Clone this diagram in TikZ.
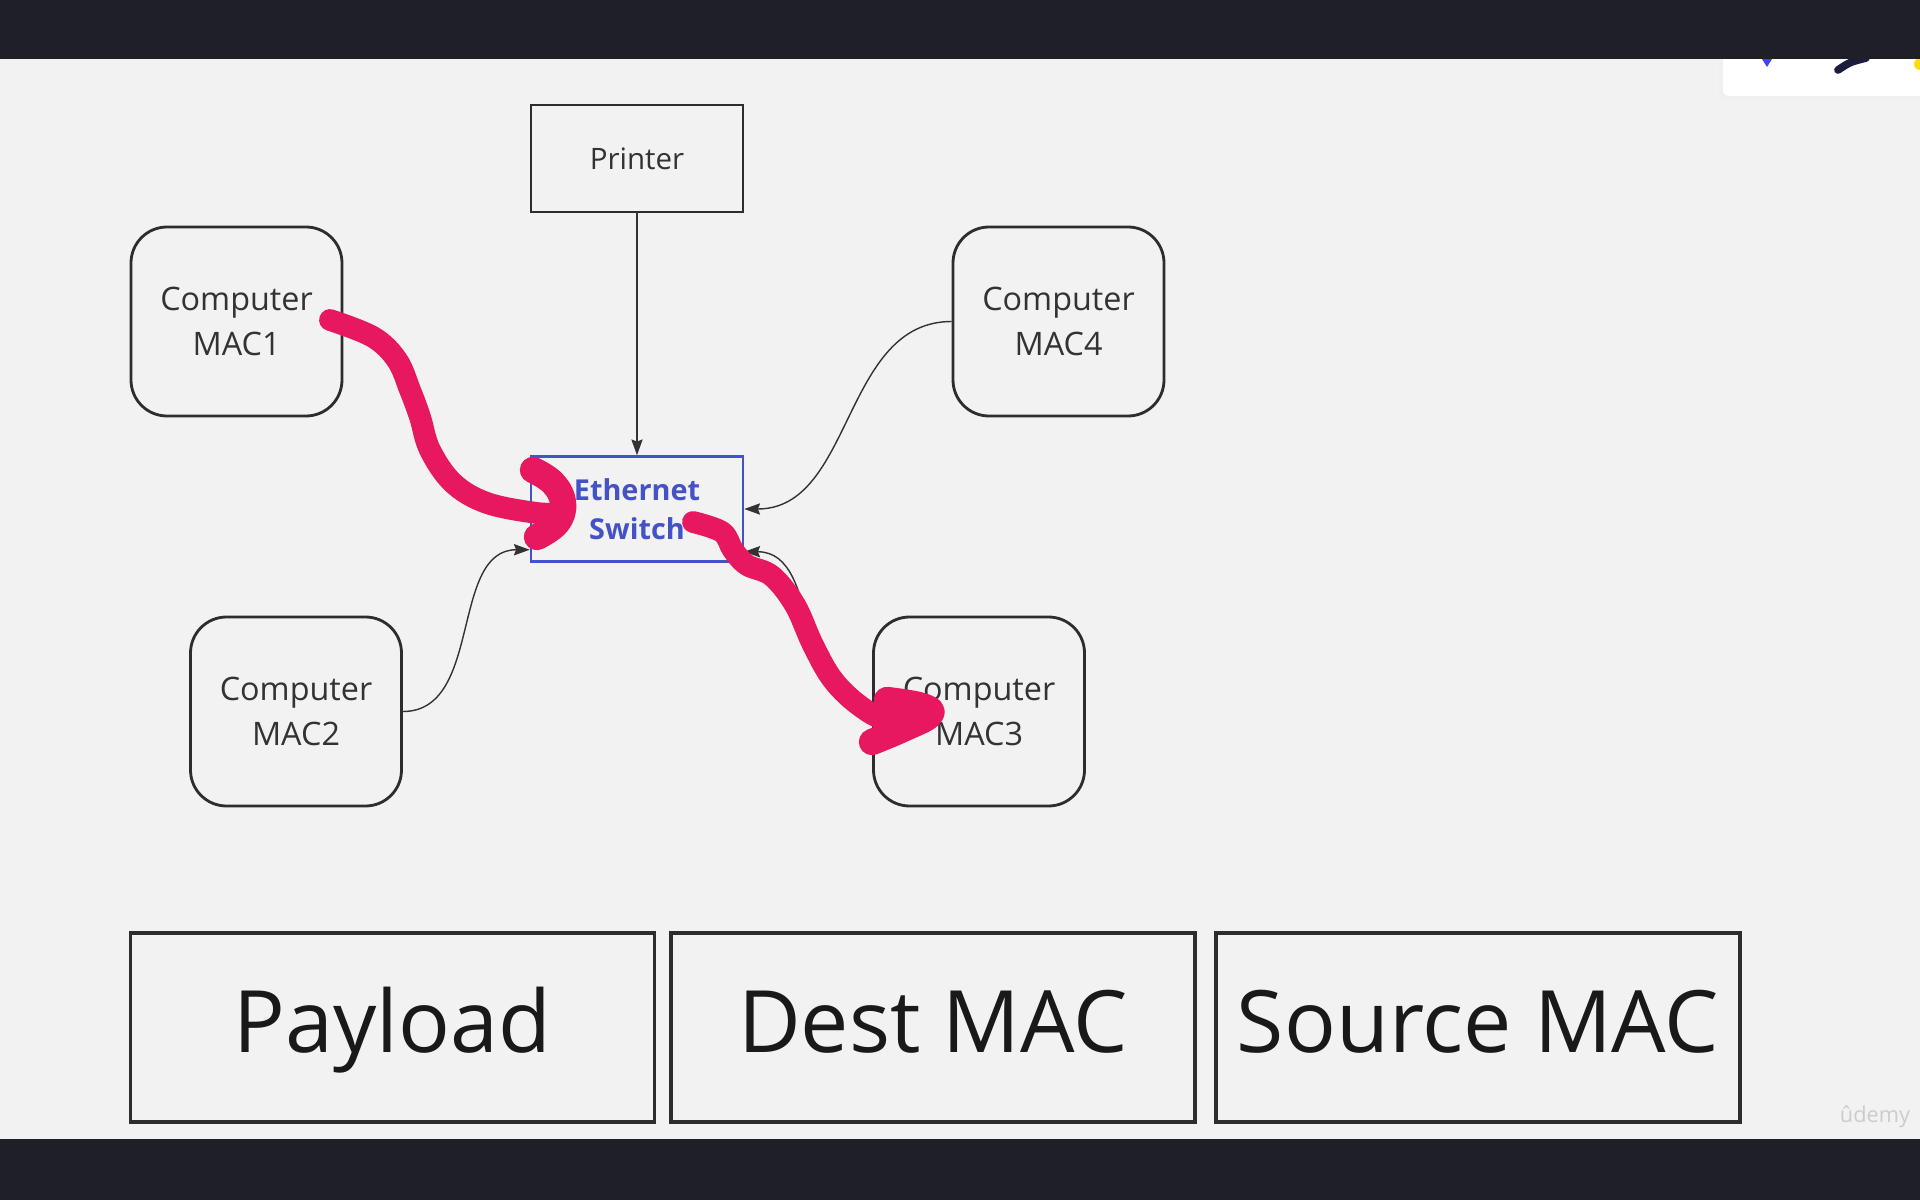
\documentclass[tikz,border=0pt]{standalone}
\usepackage{fontspec}
\setmainfont{Open Sans}
\usetikzlibrary{arrows.meta}
\definecolor{barcol}{RGB}{31,31,39}
\definecolor{paper}{RGB}{242,242,242}
\definecolor{boxline}{RGB}{45,45,45}
\definecolor{textgray}{RGB}{51,51,51}
\definecolor{switchblue}{RGB}{68,82,200}
\definecolor{inkpink}{RGB}{232,24,96}
\tikzset{
        computer/.style={draw=boxline, line width=0.8pt, rounded corners=3.6mm, minimum width=2.11cm, minimum height=1.89cm, align=center, text=textgray, font=\fontsize{9.2}{12.6}\selectfont},
        device/.style={draw=boxline, line width=0.8pt, minimum width=2.12cm, minimum height=1.07cm, text=textgray, font=\fontsize{8.4}{11}\selectfont},
        switchbox/.style={draw=switchblue, line width=0.7pt, minimum width=2.12cm, minimum height=1.05cm, align=center, text=switchblue, font=\fontsize{8.2}{11.2}\selectfont\bfseries},
        field/.style={draw=boxline, line width=1pt, minimum width=5.24cm, minimum height=1.89cm, text height=16pt, text depth=1.5pt, text=black!90, font=\fontsize{24.5}{30}\selectfont},
        link/.style={draw=black!80, line width=0.4pt, -{Stealth[length=4.5pt, width=3.2pt, inset=0.6pt]}},
        ink/.style={draw=inkpink, line width=6.2pt, line cap=round, line join=round},
        inkhead/.style={draw=inkpink, line width=7.5pt, line cap=round, line join=round}
          }
\begin{document}
\begin{tikzpicture}[x=0.1mm, y=-0.1mm]
        \useasboundingbox (0,0) rectangle (1920,1200);
        \fill[paper] (0,0) rectangle (1920,1200);
        \fill[black!6] (1719,59) rectangle (1920,100);
        \fill[white, rounded corners=0.6mm] (1723,40) rectangle (1940,96);
        \fill[blue!75] (1762,59) -- (1772,59) -- (1767,67) -- cycle;
        \draw[barcol!90!blue, line width=2.2pt, line cap=round] (1838,70) .. controls (1850,62) .. (1866,58);
        \fill[yellow!80!orange] (1920,64) circle (6);
        \fill[barcol] (0,0) rectangle (1920,59);
        \fill[barcol] (0,1139) rectangle (1920,1200);

        \node[device] (printer) at (637,158.5) {Printer};
        \node[switchbox] (switch) at (637,509) {Ethernet\\Switch};
        \node[computer] (mac1) at (236.5,321.5) {Computer\\MAC1};
        \node[computer] (mac4) at (1058.5,321.5) {Computer\\MAC4};
        \node[computer] (mac2) at (296,711.5) {Computer\\MAC2};
        \node[computer] (mac3) at (979,711.5) {Computer\\MAC3};

        \node[field] (payload) at (392.5,1027.5) {Payload};
        \node[field] (dest) at (933,1027.5) {Dest MAC};
        \node[field] (source) at (1478,1027.5) {Source MAC};
        \node[text=gray!40, font=\fontsize{6.2}{7}\selectfont] (udemy) at (1875,1117) {\^{u}demy};

        \draw[link] (printer.south) -- (switch.north);
        \draw[link] (mac4.west) to[out=180, in=0] ([yshift=0mm]switch.east);
        \draw[link] (mac2.east) to[out=0, in=180] ([yshift=1.3mm]switch.south west);
        \draw[link] (mac3.west) to[out=180, in=0] ([yshift=1.1mm]switch.south east);

        \draw[ink] plot[smooth, tension=0.6] coordinates {(330,320) (373,337) (397,360) (410,390) (420,417) (430,450) (453,483) (487,503) (537,513) (560,513)};
        \draw[inkhead] plot[smooth, tension=0.7] coordinates {(533,470) (553,483) (563,503) (557,523) (537,537)};
        \draw[ink] plot[smooth, tension=0.6] coordinates {(693,522) (722,532) (733,550) (747,565) (772,576) (795,605) (813,645) (833,680) (860,706) (888,720) (925,716)};
        \draw[inkhead] plot[smooth, tension=0.7] coordinates {(887,700) (922,706) (930,715) (903,729) (872,742)};
\end{tikzpicture}
\end{document}
